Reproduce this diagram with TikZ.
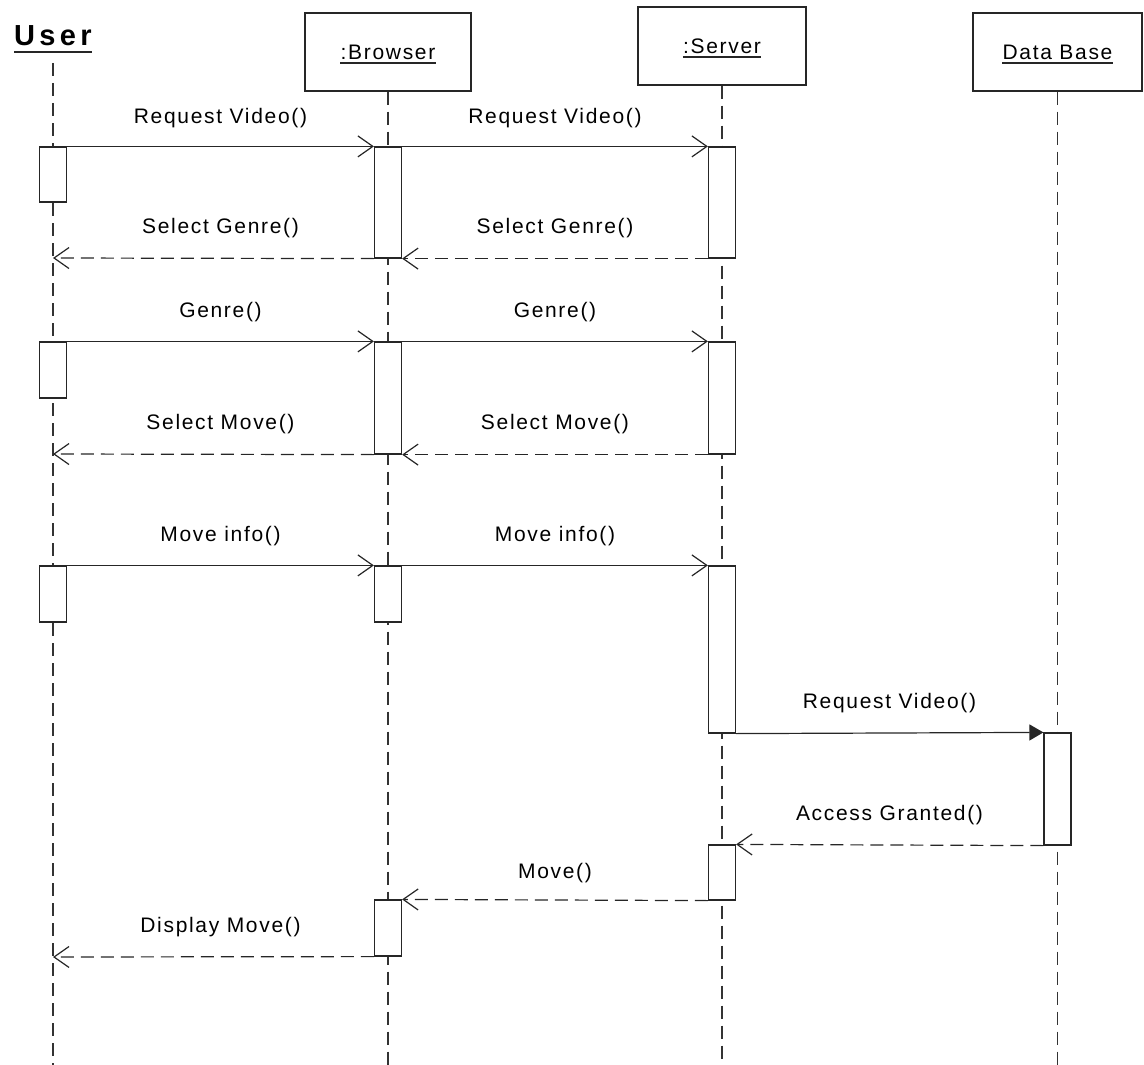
\documentclass[tikz,border=0pt]{standalone}
\usepackage{fontspec}
\setmainfont{Liberation Sans}[LetterSpace=8]
\newfontfamily\userfont{Liberation Sans}[LetterSpace=15]
\usetikzlibrary{arrows.meta}
\begin{document}
\begin{tikzpicture}[x=1pt,y=-1pt,
  ln/.style={draw=black!85, line width=1.2pt},
  head/.style={ln, fill=white, minimum height=78pt, inner sep=0pt},
  title/.style={inner sep=0pt, anchor=base, font=\fontsize{21}{25}\selectfont},
  uline/.style={draw=black!85, line width=1.3pt},
  act/.style={ln, fill=white, minimum width=27pt, inner sep=0pt},
  life/.style={draw=black!80, line width=1.2pt, dash pattern=on 13pt off 7pt},
  call/.style={ln, -{Straight Barb[length=15pt,width=21pt]}},
  ret/.style={call, dash pattern=on 13pt off 7pt},
  sync/.style={ln, -{Triangle[length=14pt,width=16pt]}},
  lbl/.style={inner sep=0pt, anchor=base, font=\fontsize{21}{25}\selectfont}]

\useasboundingbox (0,0) rectangle (1144,1065);

% heads
\node[inner sep=0pt, anchor=base, font=\userfont\bfseries\fontsize{29}{34}\selectfont] (usert) at (53,46) {User};
\draw[draw=black!85, line width=2pt] ([yshift=-6.5pt]usert.base west) -- ([yshift=-6.5pt]usert.base east);
\coordinate (user) at (53,63);

\node[head, minimum width=166pt] (browser) at (388,52) {};
\node[title] (browsert) at (388,60) {:Browser};
\draw[uline] ([yshift=-3pt]browsert.base west) -- ([yshift=-3pt]browsert.base east);

\node[head, minimum width=168pt] (server) at (722,46) {};
\node[title] (servert) at (722,54) {:Server};
\draw[uline] ([yshift=-3pt]servert.base west) -- ([yshift=-3pt]servert.base east);

\node[head, minimum width=169pt] (db) at (1057.5,52) {};
\node[title] (dbt) at (1057.5,60) {Data Base};
\draw[uline] ([yshift=-3pt]dbt.base west) -- ([yshift=-3pt]dbt.base east);

% lifelines
\coordinate (userend) at (53,1065);
\coordinate (browserend) at (388,1065);
\coordinate (serverend) at (722,1065);
\coordinate (dbend) at (1057.5,1065);
\draw[life] (user) -- (userend);
\draw[life] (browser.south) -- (browserend);
\draw[life] (server.south) -- (serverend);
\draw[life] (db.south) -- (dbend);

% activations
\node[act, minimum height=55pt]  (u1) at (53,174.5) {};
\node[act, minimum height=56pt]  (u2) at (53,370) {};
\node[act, minimum height=56pt]  (u3) at (53,594) {};
\node[act, minimum height=111pt] (b1) at (388,202.5) {};
\node[act, minimum height=112pt] (b2) at (388,398) {};
\node[act, minimum height=56pt]  (b3) at (388,594) {};
\node[act, minimum height=56pt]  (b4) at (388,928) {};
\node[act, minimum height=111pt] (s1) at (722,202.5) {};
\node[act, minimum height=112pt] (s2) at (722,398) {};
\node[act, minimum height=167pt] (s3) at (722,649.5) {};
\node[act, minimum height=55pt]  (s4) at (722,872.5) {};
\node[act, minimum height=112pt] (d1) at (1057.5,789) {};

% return targets on the User lifeline
\coordinate (ur1) at (53,258);
\coordinate (ur2) at (53,454);
\coordinate (ur3) at (53,957);

% messages
\draw[call] (u1.north east) -- (b1.north west);
\node[lbl] (l1) at (220.5,123) {Request Video()};
\draw[call] (b1.north east) -- (s1.north west);
\node[lbl] (l2) at (555,123) {Request Video()};
\draw[ret] (s1.south west) -- (b1.south east);
\node[lbl] (l3) at (555,233) {Select Genre()};
\draw[ret] (b1.south west) -- (ur1);
\node[lbl] (l4) at (220.5,233) {Select Genre()};

\draw[call] (u2.north east) -- (b2.north west);
\node[lbl] (l5) at (220.5,317) {Genre()};
\draw[call] (b2.north east) -- (s2.north west);
\node[lbl] (l6) at (555,317) {Genre()};
\draw[ret] (s2.south west) -- (b2.south east);
\node[lbl] (l7) at (555,429) {Select Move()};
\draw[ret] (b2.south west) -- (ur2);
\node[lbl] (l8) at (220.5,429) {Select Move()};

\draw[call] (u3.north east) -- (b3.north west);
\node[lbl] (l9) at (220.5,541) {Move info()};
\draw[call] (b3.north east) -- (s3.north west);
\node[lbl] (l10) at (555,541) {Move info()};

\draw[sync] (s3.south east) -- (d1.north west);
\node[lbl] (l11) at (889.5,708) {Request Video()};
\draw[ret] (d1.south west) -- (s4.north east);
\node[lbl] (l12) at (889.5,820) {Access Granted()};
\draw[ret] (s4.south west) -- (b4.north east);
\node[lbl] (l13) at (555,878) {Move()};
\draw[ret] (b4.south west) -- (ur3);
\node[lbl] (l14) at (220.5,932) {Display Move()};
\end{tikzpicture}
\end{document}
